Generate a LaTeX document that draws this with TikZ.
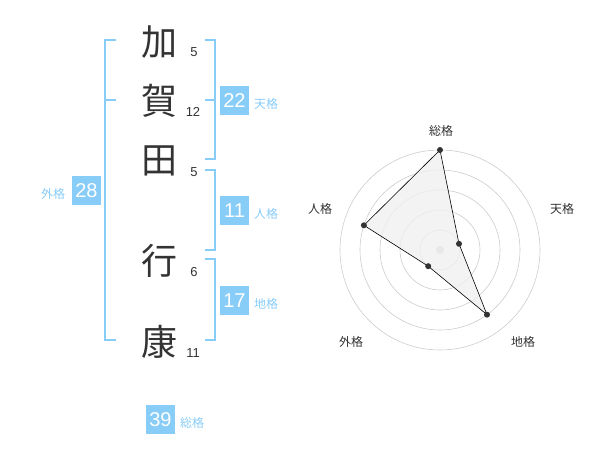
\documentclass[tikz,border=0pt]{standalone}
\usepackage{fontspec}
\setmainfont{Liberation Sans}
\newfontfamily\cjk{Noto Sans CJK JP}
\definecolor{kblue}{HTML}{88CCF8}
\definecolor{ktext}{HTML}{333333}
\definecolor{kring}{HTML}{CCCCCC}
\definecolor{kfill}{HTML}{F0F0F0}
\begin{document}
\begin{tikzpicture}[x=1pt,y=-1pt,
  kanji/.style={text=ktext,font=\cjk\fontsize{36}{36}\selectfont,inner sep=0pt},
  strokes/.style={text=ktext,font=\fontsize{13}{13}\selectfont,inner sep=0pt},
  numbox/.style={fill=kblue,text=white,minimum width=29pt,minimum height=29pt,inner sep=0pt,font=\fontsize{20}{20}\selectfont},
  kakulbl/.style={text=kblue,font=\cjk\fontsize{12}{12}\selectfont,inner sep=0pt},
  br/.style={draw=kblue,line width=2pt},
  ring/.style={draw=kring,line width=0.6pt},
  axlbl/.style={text=ktext,font=\cjk\fontsize{12}{12}\selectfont,inner sep=0pt},
  dot/.style={circle,fill=ktext,minimum size=6pt,inner sep=0pt}]
\useasboundingbox (0,0) rectangle (600,470);
% kanji
\node[kanji] (k1) at (159,42) {加};
\node[kanji] (k2) at (159,101) {賀};
\node[kanji] (k3) at (159,161) {田};
\node[kanji] (k4) at (159,261) {行};
\node[kanji] (k5) at (159,342) {康};
\node[strokes] (s1) at (194,52) {5};
\node[strokes] (s2) at (193,112) {12};
\node[strokes] (s3) at (194,172) {5};
\node[strokes] (s4) at (194,272) {6};
\node[strokes] (s5) at (193,353) {11};
% brackets
\coordinate (L1) at (116,40); \coordinate (L2) at (105,40);
\coordinate (L3) at (105,340); \coordinate (L4) at (116,340);
\coordinate (Lm) at (105,100); \coordinate (Lm2) at (116,100);
\draw[br] (L1) -- (L2) -- (L3) -- (L4);
\draw[br] (Lm) -- (Lm2);
\coordinate (A1) at (205,40); \coordinate (A2) at (215,40);
\coordinate (A3) at (215,159); \coordinate (A4) at (205,159);
\coordinate (Am) at (205,100); \coordinate (Am2) at (215,100);
\draw[br] (A1) -- (A2) -- (A3) -- (A4);
\draw[br] (Am) -- (Am2);
\coordinate (B1) at (205,170); \coordinate (B2) at (215,170);
\coordinate (B3) at (215,250); \coordinate (B4) at (205,250);
\draw[br] (B1) -- (B2) -- (B3) -- (B4);
\coordinate (C1) at (205,259); \coordinate (C2) at (215,259);
\coordinate (C3) at (215,340); \coordinate (C4) at (205,340);
\draw[br] (C1) -- (C2) -- (C3) -- (C4);
% boxes
\node[numbox] (ten) at (234.5,100.5) {22};
\node[kakulbl] (tenl) at (266,104) {天格};
\node[numbox] (jin) at (234.5,210.5) {11};
\node[kakulbl] (jinl) at (266,214) {人格};
\node[numbox] (chi) at (234.5,300.5) {17};
\node[kakulbl] (chil) at (266,304) {地格};
\node[numbox] (gai) at (86.5,190.5) {28};
\node[kakulbl] (gail) at (53,194) {外格};
\node[numbox] (sou) at (160.5,419.5) {39};
\node[kakulbl] (soul) at (192,423) {総格};
% radar
\coordinate (O) at (440,250);
\foreach \r in {20,40,60,80,100} \draw[ring] (O) circle[radius=\r];
\fill[kring] (O) circle[radius=4];
\coordinate (p1) at (440,150);
\coordinate (p2) at (459.0,243.8);
\coordinate (p3) at (487.0,314.7);
\coordinate (p4) at (428.2,266.2);
\coordinate (p5) at (363.9,225.3);
\draw[black,line width=0.6pt,fill=kfill,fill opacity=0.8] (p1) -- (p2) -- (p3) -- (p4) -- (p5) -- cycle;
\foreach \p in {p1,p2,p3,p4,p5} \node[dot] at (\p) {};
\node[axlbl] (a1) at (441,131) {総格};
\node[axlbl] (a2) at (562,209) {天格};
\node[axlbl] (a3) at (523,342) {地格};
\node[axlbl] (a4) at (351,342) {外格};
\node[axlbl] (a5) at (320,209) {人格};
\end{tikzpicture}
\end{document}
